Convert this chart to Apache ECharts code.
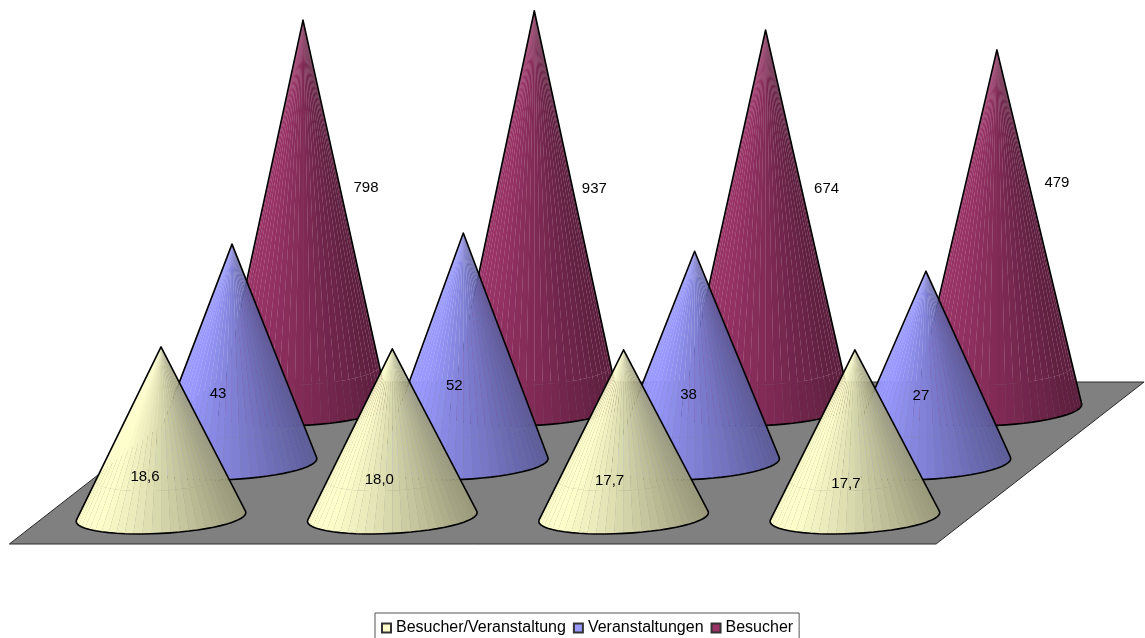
<!DOCTYPE html>
<html>
<head>
<meta charset="utf-8">
<style>
  html, body { margin: 0; padding: 0; background: #fff; }
  #chart { width: 1145px; height: 638px; }
</style>
<script src="https://cdn.jsdelivr.net/npm/echarts@6/dist/echarts.min.js"></script>
</head>
<body>
<div id="chart"></div>
<script>
// Values per group, one list for each row of cones
const categories = ['Gruppe 1', 'Gruppe 2', 'Gruppe 3', 'Gruppe 4'];
const besucherProVeranstaltung = [18.6, 18.0, 17.7, 17.7];
const veranstaltungen = [43, 52, 38, 27];
const besucher = [798, 937, 674, 479];

// Label formats: one decimal with a German comma for the ratio row
const ratioLabel = v => v.toFixed(1).replace('.', ',');
const plainLabel = v => String(v);

// Row layout: each row sits on its own grid, further back on the floor
const BAND = 231.3;
const PLOT_HEIGHT = 402;           // three decades on the log scale
const rows = [
  { name: 'Besucher/Veranstaltung', values: besucherProVeranstaltung, color: [255, 255, 204], hex: '#FFFFCC', left: 45.35,  base: 517, z: 4, fmt: ratioLabel,
    nudge: [[-16, -40], [-13, -37], [-14, -36], [-9, -33]] },
  { name: 'Veranstaltungen',        values: veranstaltungen,          color: [153, 153, 255], hex: '#9999FF', left: 116.35, base: 463, z: 3, fmt: plainLabel,
    nudge: [[-14, -69], [-9, -77], [-6, -68], [-5, -67]] },
  { name: 'Besucher',               values: besucher,                 color: [153, 51, 102],  hex: '#993366', left: 187.35, base: 409, z: 2, fmt: plainLabel,
    nudge: [[63, -221], [60, -220], [61, -220], [60, -226]] }
];

// Cone footprint: a circle lying on the sheared floor plane
const RADIUS_X = 82, RADIUS_DEPTH = 17, SHEAR = 1.284;
const FACETS = 30, SEAM_ABOVE_BASE = 39;

// Brightness across the visible side of a cone, left to right
function shade(color, f) {
  let m;
  if (f < 0.12) m = 1;
  else if (f < 0.5) m = 1 - (f - 0.12) / 0.38 * 0.16;
  else m = 0.84 - (f - 0.5) / 0.5 * 0.24;
  return 'rgb(' + color.map(c => Math.round(c * m)).join(',') + ')';
}

function rimPoint(cx, cy, t) {
  return [
    cx + RADIUS_X * Math.cos(t) + SHEAR * RADIUS_DEPTH * Math.sin(t),
    cy - RADIUS_DEPTH * Math.sin(t)
  ];
}

function coneItem(row) {
  return function (params, api) {
    const idx = api.value(0);
    const value = api.value(1);
    const apex = api.coord([idx, value]);
    const center = api.coord([idx, 1]);
    const cx = center[0], cy = center[1];

    // Silhouette tangents seen from the apex
    let tL = 0, tR = 0, minS = Infinity, maxS = -Infinity;
    for (let i = 0; i < 720; i++) {
      const t = i / 720 * Math.PI * 2;
      const p = rimPoint(cx, cy, t);
      const s = (p[0] - apex[0]) / (p[1] - apex[1]);
      if (s < minS) { minS = s; tL = t; }
      if (s > maxS) { maxS = s; tR = t; }
    }
    if (tR < tL) tR += Math.PI * 2;

    const rim = [];
    for (let i = 0; i <= FACETS; i++) rim.push(rimPoint(cx, cy, tL + (tR - tL) * i / FACETS));
    const k = 1 - SEAM_ABOVE_BASE / (cy - apex[1]);
    const mid = rim.map(p => [apex[0] + (p[0] - apex[0]) * k, apex[1] + (p[1] - apex[1]) * k]);

    // Translucent body underneath softens the gaps between facets
    const children = [{
      type: 'polygon', silent: true,
      shape: { points: [apex].concat(rim) },
      style: { fill: shade(row.color, 0.5), opacity: 0.35 }
    }];
    const xMin = rim[0][0], xSpan = rim[FACETS][0] - xMin;
    for (let i = 0; i < FACETS; i++) {
      const f = ((rim[i][0] + rim[i + 1][0]) / 2 - xMin) / xSpan;
      const fill = shade(row.color, f);
      children.push({ type: 'polygon', silent: true, shape: { points: [apex, mid[i], mid[i + 1]] }, style: { fill: fill } });
      children.push({ type: 'polygon', silent: true, shape: { points: [mid[i], rim[i], rim[i + 1], mid[i + 1]] }, style: { fill: fill } });
    }
    children.push({
      type: 'polygon', silent: true, z2: 5,
      shape: { points: [apex].concat(rim) },
      style: { fill: 'none', stroke: '#000', lineWidth: 1.6, lineJoin: 'round' }
    });
    const nudge = row.nudge[params.dataIndex];
    children.push({
      type: 'text', silent: true, z2: 10,
      style: {
        x: cx + nudge[0], y: cy + nudge[1],
        text: row.fmt(value), fill: '#000',
        font: '15px "Liberation Sans", Arial, sans-serif',
        align: 'center', verticalAlign: 'middle'
      }
    });
    return { type: 'group', children: children };
  };
}

// Floor plate under the three rows, derived from the front row's scale
const FLOOR_FRONT = 27, FLOOR_INSET_LEFT = 36, FLOOR_INSET_RIGHT = 34.5, FLOOR_DEPTH = [208, -162];
function floorItem(params, api) {
  const c = api.coord([0, 1]);
  const band = api.size([1, 0])[0];
  const y = c[1] + FLOOR_FRONT;
  const x0 = c[0] - band / 2 - FLOOR_INSET_LEFT;
  const x1 = c[0] - band / 2 + band * categories.length - FLOOR_INSET_RIGHT;
  return {
    type: 'polygon', silent: true,
    shape: { points: [[x0, y], [x1, y], [x1 + FLOOR_DEPTH[0], y + FLOOR_DEPTH[1]], [x0 + FLOOR_DEPTH[0], y + FLOOR_DEPTH[1]]] },
    style: { fill: '#808080', stroke: '#2a2a2a', lineWidth: 1 }
  };
}

const chart = echarts.init(document.getElementById('chart'), null, { renderer: 'canvas' });

const grids = rows.map(r => ({ left: r.left, top: r.base - PLOT_HEIGHT, width: BAND * categories.length, height: PLOT_HEIGHT, show: false }));
const xAxes = rows.map((r, i) => ({ type: 'category', gridIndex: i, data: categories, show: false }));
const yAxes = rows.map((r, i) => ({ type: 'log', gridIndex: i, min: 1, max: 1000, show: false }));

const series = [{
  type: 'custom', name: 'Boden', xAxisIndex: 0, yAxisIndex: 0, z: 1, clip: false, silent: true,
  data: [[0, 1]], renderItem: floorItem, encode: { x: 0, y: 1 }
}].concat(rows.map((r, i) => ({
  type: 'custom', name: r.name, xAxisIndex: i, yAxisIndex: i, z: r.z, clip: false, silent: true,
  itemStyle: { color: r.hex, borderColor: '#333', borderWidth: 0.8 },
  data: r.values.map((v, j) => [j, v]),
  encode: { x: 0, y: 1 },
  renderItem: coneItem(r)
})));

chart.setOption({
  animation: false,
  backgroundColor: '#fff',
  tooltip: { show: false },
  grid: grids,
  xAxis: xAxes,
  yAxis: yAxes,
  legend: {
    data: rows.map(r => r.name),
    left: 375, top: 613,
    padding: [7, 6, 8, 6],
    itemWidth: 9, itemHeight: 9, itemGap: 7,
    icon: 'rect',
    selectedMode: false,
    borderColor: '#555', borderWidth: 1,
    backgroundColor: '#fff',
    textStyle: { color: '#000', fontFamily: '"Liberation Sans", Arial, sans-serif', fontSize: 16 }
  },
  series: series
});
</script>
</body>
</html>
